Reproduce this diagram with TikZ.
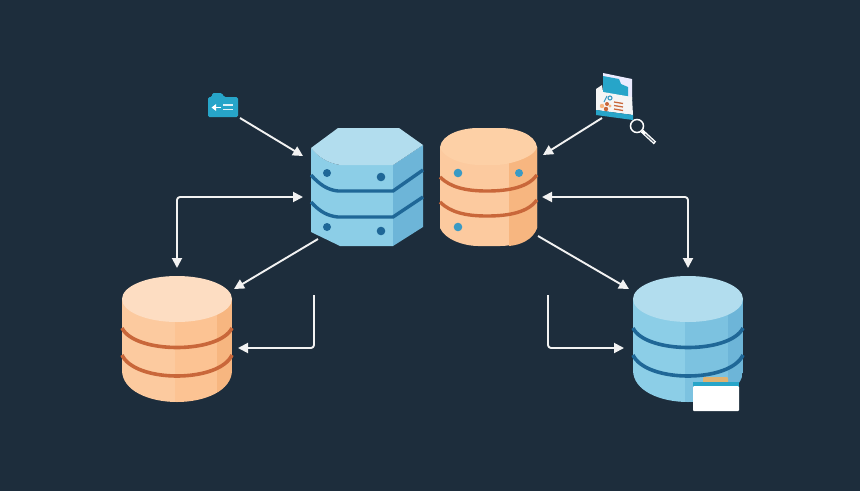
\documentclass[tikz,border=0pt]{standalone}
\usepackage{xcolor}
\usetikzlibrary{arrows.meta}
\definecolor{bgNavy}{HTML}{1D2D3C}
\definecolor{blueTop}{HTML}{B2DDEE}
\definecolor{blueFront}{HTML}{8CCEE7}
\definecolor{blueMid}{HTML}{7CC2E0}
\definecolor{blueSide}{HTML}{6DB5D8}
\definecolor{blueBand}{HTML}{1F6797}
\definecolor{peachTop}{HTML}{FDDDC2}
\definecolor{peachTopB}{HTML}{FDD0A6}
\definecolor{peachFront}{HTML}{FCCA9F}
\definecolor{peachMid}{HTML}{FCC393}
\definecolor{peachSide}{HTML}{F7B680}
\definecolor{rustBand}{HTML}{C9673A}
\definecolor{dotBlue}{HTML}{3A9AC4}
\definecolor{iconTeal}{HTML}{27A5C9}
\tikzset{%
  tipA/.tip={Triangle[length=10pt,width=10pt]},
  flow/.style={draw=white!95!black, line width=1.9pt, rounded corners=3pt, line join=round},
  hidebox/.style={inner sep=0pt, outer sep=0pt, minimum width=#1},
}
% round database: centre x, half width, split x, split x, colours, band colour
\newcommand{\rounddb}[8]{%
  \begin{scope}
  \clip (#1-#2,299) -- (#1-#2,370) .. controls (#1-#2,391) and (#1-#2*.5,402) .. (#1,402)
     .. controls (#1+#2*.5,402) and (#1+#2,391) .. (#1+#2,370) -- (#1+#2,299) -- cycle;
  \fill[#5] (#1-#2,290) rectangle (#3,410);
  \fill[#6] (#3,290) rectangle (#4,410);
  \fill[#7] (#4,290) rectangle (#1+#2,410);
  \end{scope}
  \draw[#8, line width=3.6pt] (#1-#2,328) .. controls (#1-#2+13,354) and (#1+#2-13,354) .. (#1+#2,328);
  \draw[#8, line width=3.6pt] (#1-#2,355) .. controls (#1-#2+13,383) and (#1+#2-13,383) .. (#1+#2,355);
}
\begin{document}
\begin{tikzpicture}[x=1pt,y=-1pt]
\useasboundingbox (0,0) rectangle (860,491);
\fill[bgNavy] (0,0) rectangle (860,491);

% node boxes, the connectors hang on these
\node[hidebox=112pt, minimum height=118pt] (dbHex) at (367,187) {};
\node[hidebox=97pt, minimum height=118pt] (dbOrange) at (488.5,187) {};
\node[hidebox=110pt, minimum height=126pt] (dbLeft) at (177,339) {};
\node[hidebox=110pt, minimum height=126pt] (dbRight) at (688,339) {};
\node[hidebox=30pt, minimum height=24pt] (folderIcon) at (223,105) {};
\node[hidebox=38pt, minimum height=48pt] (docIcon) at (614,96) {};
\coordinate (dropLeft) at (314,295);
\coordinate (dropRight) at (548,295);

% hexagonal database
\fill[blueFront] (311,148) -- (311,232) -- (340,246) -- (393,246) -- (393,165) -- (340,165) .. controls (328,163) and (318,157) .. cycle;
\fill[blueSide] (393,165) -- (423,145) -- (423,227) -- (393,246) -- cycle;
\fill[blueTop] (311,148) -- (338,128) -- (399,128) -- (423,145) -- (393,165) -- (340,165) .. controls (328,163) and (318,157) .. cycle;
\draw[blueBand, line width=3.4pt] (311,175) .. controls (320,185) and (328,190) .. (338,191) -- (393,191) -- (423,170);
\draw[blueBand, line width=3.4pt] (311,202) .. controls (320,212) and (328,216) .. (338,217) -- (393,217) -- (423,197);
\fill[blueBand] (327,173) circle (4);
\fill[blueBand] (381,177) circle (4.3);
\fill[blueBand] (327,227) circle (4);
\fill[blueBand] (381,231) circle (4.3);

% orange database, upper
\fill[peachFront] (440,147) -- (440,228) .. controls (445,240) and (465,246) .. (478,246) -- (500,246) .. controls (515,246) and (533,240) .. (537,228) -- (537,147) -- cycle;
\fill[peachSide] (509,160) -- (537,147) -- (537,228) .. controls (533,240) and (520,245) .. (509,246) -- cycle;
\fill[peachTopB] (440,147) .. controls (442,134) and (462,128) .. (478,128) -- (500,128) .. controls (516,128) and (535,134) .. (537,147) .. controls (535,157) and (510,165) .. (495,165) -- (480,165) .. controls (462,165) and (442,157) .. (440,147) -- cycle;
\draw[rustBand, line width=3.4pt] (440,177) .. controls (450,187) and (465,191) .. (487,191) .. controls (510,191) and (528,187) .. (537,175);
\draw[rustBand, line width=3.4pt] (440,202) .. controls (450,212) and (465,216) .. (487,216) .. controls (510,216) and (528,212) .. (537,200);
\fill[dotBlue] (458,173) circle (4.3);
\fill[dotBlue] (519,173) circle (4);
\fill[dotBlue] (458,227) circle (4.3);

% lower databases
\rounddb{177}{55}{175}{217}{peachFront}{peachMid}{peachSide}{rustBand}
\fill[peachTop] (177,299) ellipse (55 and 23);
\rounddb{688}{55}{685}{728}{blueFront}{blueMid}{blueSide}{blueBand}
\fill[blueTop] (688,299) ellipse (55 and 23);

% card on the right database
\fill[rounded corners=1pt, color={rgb,255:red,224;green,178;blue,112}] (703,377) rectangle (728,383);
\fill[iconTeal] (693,382) rectangle (739,387);
\fill[white, rounded corners=1pt] (693,386) rectangle (739,411);

% folder icon
\fill[iconTeal, rounded corners=1.5pt] (208,97) -- (212,97) -- (212,93) -- (222,93) -- (224,97) -- (238,97) -- (238,117) -- (208,117) -- cycle;
\draw[white, line width=1.8pt, -{Triangle[length=4.5pt,width=6.5pt]}] (221,107.5) -- (211.5,107.5);
\draw[white!85!iconTeal, line width=1.9pt] (223,105) -- (233,105);
\draw[white!85!iconTeal, line width=1.9pt] (223,109.5) -- (233,109.5);

% document icon
\fill[white!92!blue] (603,73) -- (632,79) -- (632,100) -- (603,95) -- cycle;
\fill[iconTeal] (603,76) -- (619,79) -- (621,84) -- (628,87) -- (628,100) -- (603,95) -- cycle;
\fill[white!96!black] (596,89) -- (602,85) -- (603,92) -- (632,97) -- (633,115) -- (596,110) -- cycle;
\fill[iconTeal] (596,110) -- (633,115) -- (633,120) -- (596,115) -- cycle;
\draw[rustBand, line width=1.3pt] (614,102) -- (623,103.5);
\draw[rustBand, line width=1.3pt] (614,105.5) -- (623,107);
\draw[rustBand, line width=1.3pt] (614,109) -- (623,110.5);
\draw[dotBlue, line width=1.1pt] (604,102) -- (607,96);
\draw[dotBlue, line width=1.1pt] (610,98) circle (2);
\fill[peachSide] (602,106) circle (2.2);
\fill[rustBand] (607,104) circle (2);
\fill[rustBand] (606,109) circle (2.2);
\fill[peachSide] (610,106) circle (1.6);

% magnifier
\draw[white, line width=1.5pt] (637,126) circle (6.5);
\draw[white, line width=3.6pt] (642,131) -- (655,143);
\draw[bgNavy!70!white, line width=1pt] (645,134) -- (654,142);

% connectors
\draw[flow, -tipA] ([shift={(2,1)}]folderIcon.south east) -- ([shift={(-8,28)}]dbHex.north west);
\draw[flow, tipA-tipA] ([shift={(-8,10)}]dbHex.west) -| ([shift={(0,-8)}]dbLeft.north);
\draw[flow, -tipA] ([shift={(7,-7)}]dbHex.south west) -- ([shift={(2,-50)}]dbLeft.east);
\draw[flow, -tipA] (dropLeft) |- ([shift={(6,9)}]dbLeft.east);
\draw[flow, -tipA] ([shift={(7,-2)}]docIcon.south west) -- ([shift={(6,-32)}]dbOrange.east);
\draw[flow, tipA-tipA] ([shift={(5,10)}]dbOrange.east) -| ([shift={(0,-8)}]dbRight.north);
\draw[flow, -tipA] ([shift={(1,-10)}]dbOrange.south east) -- ([shift={(-4,-50)}]dbRight.west);
\draw[flow, -tipA] (dropRight) |- ([shift={(-9,9)}]dbRight.west);
\end{tikzpicture}
\end{document}
